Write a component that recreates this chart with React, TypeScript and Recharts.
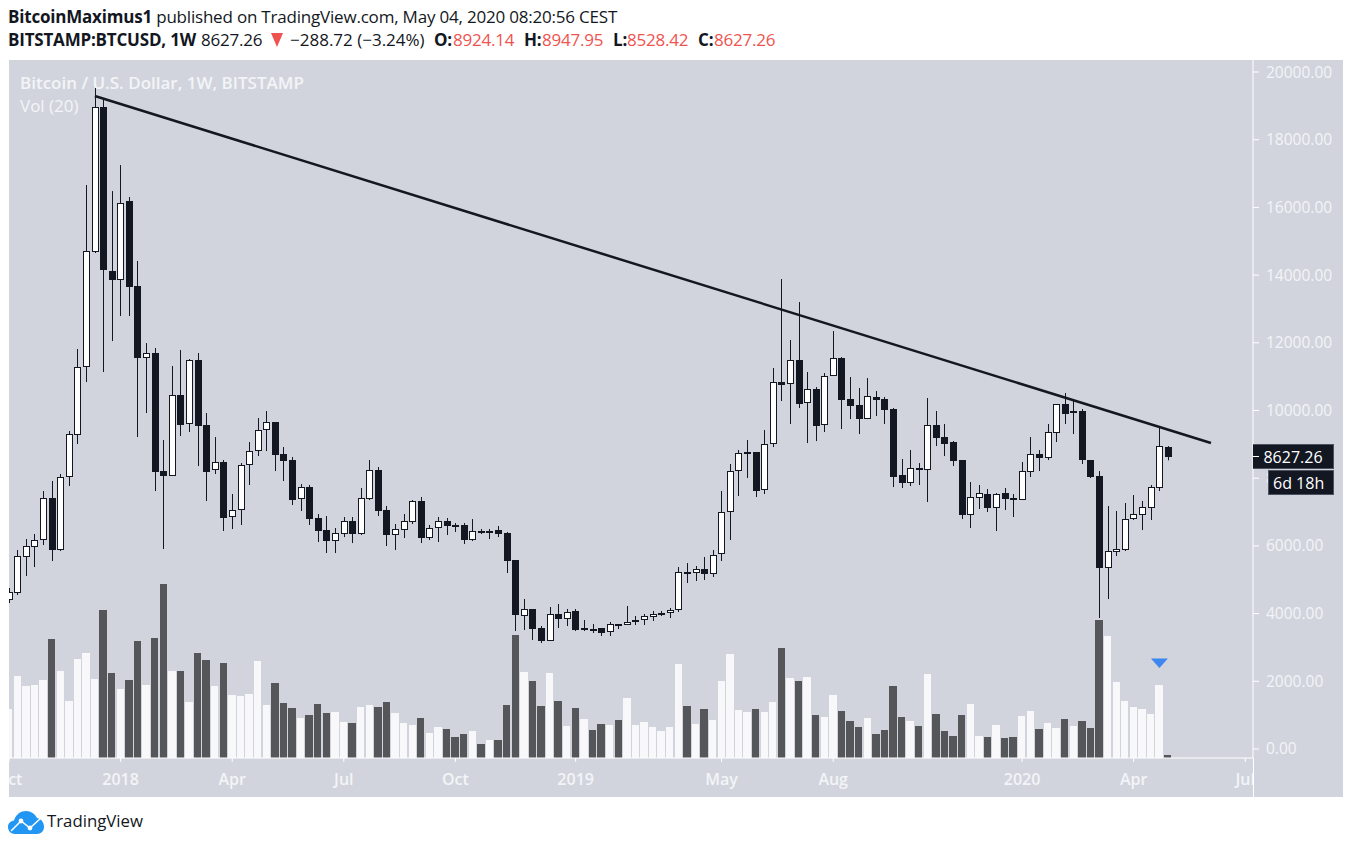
import { ComposedChart, Bar, XAxis, YAxis, ReferenceLine, ReferenceDot } from 'recharts';

const opens = [4401,4608,5672,5967,6174,7415,5878,8035,9276,11284,
  14681,18965,14120,13854,16188,13677,11550,11698,8212,8064,
  10457,9601,11491,9571,8242,8478,6853,7060,8389,8803,
  9423,9660,8714,8537,7385,7739,6824,6469,6144,6351,
  6735,6351,7385,8242,7060,6322,6469,6706,7326,6233,
  6528,6735,6617,6617,6174,6440,6440,6469,6381,5583,
  3929,4136,3574,3190,3988,3840,4077,3574,3545,3574,
  3456,3693,3663,3811,3811,3929,4017,4017,4106,5229,
  5199,5317,5170,5760,7001,8212,8773,8773,7651,9010,
  10841,10782,11491,10221,10634,9571,11018,11550,10339,10162,
  9748,10398,10339,10044,8094,7858,8301,8242,9571,9216,
  9069,8537,6912,7415,7533,7119,7562,7415,7355,8183,
  8714,8596,9335,10191,9985,9985,8537,8064,5347,5849,
  5878,6794,6912,7119,7710,8924.14];

const closes = [4638,5701,5997,6174,7415,5878,8035,9305,11284,14711,
  18965,14150,13854,16129,13647,11550,11698,8183,8064,10457,
  9571,11491,9541,8183,8478,6824,7060,8389,8803,9423,
  9660,8685,8508,7355,7739,6794,6440,6144,6381,6735,
  6351,7415,8242,7031,6322,6499,6735,7326,6233,6528,
  6735,6587,6587,6174,6440,6410,6410,6351,5554,3958,
  4136,3545,3190,3988,3840,4047,3515,3515,3515,3427,
  3693,3633,3752,3752,3929,3988,3958,4106,5229,5170,
  5317,5170,5731,7001,8212,8744,8714,7621,9010,10841,
  10753,11491,10191,10634,9541,11018,11550,10309,10132,9748,
  10428,10309,10014,8035,7858,8301,8242,9571,9187,9010,
  8508,6912,7444,7562,7119,7533,7385,7355,8212,8714,
  8596,9364,10191,9896,9925,8537,8035,5347,5849,5908,
  6794,6942,7149,7739,8951,8627.26];

const highs = [4756,5878,6203,6351,7621,7917,8124,9394,11816,16661,
  19526,19231,16483,17251,16306,14416,11993,11846,9128,11314,
  11786,11521,11698,9925,9216,8537,7533,8448,9069,9778,
  9985,9660,8921,8626,7828,7799,6942,6883,6528,6853,
  6853,7710,8537,8330,7178,6647,6942,7355,7444,6617,
  6853,6824,6676,6676,6794,6499,6499,6587,6410,5583,
  4431,4136,3633,4195,4283,4136,4136,3811,3693,3574,
  3752,3693,4224,3929,3988,4077,4077,4165,5376,5494,
  5406,5672,5878,7621,8419,8832,9128,8773,9423,11255,
  13884,12082,13204,11137,10693,11107,12348,11580,10989,10664,
  10959,10575,10398,10073,8567,8832,8448,10369,9985,9601,
  9098,8537,7887,7799,7680,7562,7710,7533,8478,9216,
  8832,9601,10191,10516,10280,10044,8537,8212,7178,7031,
  7267,7503,7326,7799,9482,8947.95];

const lows = [4313,4549,5110,5376,6026,5554,5849,7769,9010,10841,
  14652,11137,12052,12791,12791,9216,9925,7621,5908,8064,
  9246,9364,8360,7326,8124,6440,6499,6617,7799,8655,
  8803,8212,7917,7208,7031,6617,6115,5790,5790,6262,
  6085,6322,7355,6883,5997,5878,6233,6647,6085,6174,
  6115,6322,6410,6056,6144,6351,6203,6262,5199,3486,
  3515,3220,3131,3190,3574,3633,3486,3486,3427,3338,
  3338,3545,3663,3663,3663,3781,3929,3870,4047,4904,
  4963,4992,5081,5554,6174,7474,8005,7444,7533,8921,
  10280,9601,10073,9039,9098,9364,11018,9453,9748,9305,
  9748,9837,9601,7739,7710,7769,7799,7296,8951,8655,
  8360,6794,6528,7090,7001,6440,7060,6853,7355,8035,
  8212,8537,9069,9601,9305,8419,8005,3870,4431,5701,
  5849,6765,6469,6765,7621,8528.42];

const volumes = [49,82,72,73,78,119,87,57,99,105,
  79,148,85,69,78,117,73,120,174,87,
  87,56,105,98,72,95,63,62,64,97,
  53,75,55,50,40,43,54,45,46,36,
  35,51,53,51,56,45,35,33,40,25,
  31,29,21,24,27,14,18,18,53,123,
  86,77,52,85,57,32,50,39,28,34,
  33,38,60,33,36,31,27,31,94,52,
  34,49,38,77,104,48,46,49,46,56,
  110,80,77,81,43,41,63,47,37,31,
  40,24,28,72,41,37,32,84,44,27,
  22,43,54,22,21,33,20,21,42,47,
  29,35,30,39,32,37,30,138,122,76,
  57,51,49,44,73,3];

const downVolumes = [5,11,12,14,15,17,18,20,22,23,25,31,32,33,35,36,37,40,43,44,48,51,52,53,55,57,58,59,61,62,64,66,68,69,71,79,81,87,90,92,94,97,98,99,101,102,103,104,106,108,109,110,111,114,116,117,120,123,125,126,127,135];

const priceTicks = [0,2000,4000,6000,8000,10000,12000,14000,16000,18000,20000];
const timeTicks = [0,13,26,39,52,66,83,96,118,131,144];
const timeLabels = ['Oct','2018','Apr','Jul','Oct','2019','May','Aug','2020','Apr','Jul'];
const trendLine = [{ x: 10, y: 19290 }, { x: 140, y: 9040 }];

const rows = opens.map((open, i) => ({
  i,
  open,
  close: closes[i],
  high: highs[i],
  low: lows[i],
  volume: volumes[i],
  volDown: downVolumes.includes(i),
}));

const dark = '#131722';
const light = '#f3f4f8';
const font = '"Open Sans", sans-serif';

function Candle(props: any) {
  const { x, y, width, height, payload } = props;
  const { open, close, high, low } = payload;
  const k = height / (high - low);
  const cx = Math.floor(x + width / 2);
  const top = Math.round(y + (high - Math.max(open, close)) * k);
  const bottom = Math.round(y + (high - Math.min(open, close)) * k);
  const down = close < open;
  return (
    <g>
      <rect x={cx} y={y} width={1} height={height} fill={dark} />
      {down ? (
        <rect x={cx - 3} y={top} width={7} height={Math.max(bottom - top, 2)} fill={dark} />
      ) : (
        <rect x={cx - 2.5} y={top + 0.5} width={6} height={Math.max(bottom - top - 1, 2)} fill="#fff" stroke={dark} strokeWidth={1} />
      )}
    </g>
  );
}

function VolumeBar(props: any) {
  const { x, y, width, height, payload } = props;
  const mid = x + width / 2;
  const left = Math.round(mid - 3.7);
  const right = Math.round(mid + 3.7);
  return <rect x={left} y={y} width={right - left} height={height} fill={payload.volDown ? '#555659' : '#f8f8fb'} />;
}

function TimeTick(props: any) {
  const { x, payload } = props;
  const idx = timeTicks.indexOf(payload.value);
  return (
    <text x={x} y={785} textAnchor="middle" fontFamily={font} fontSize={16} fontWeight={600} fill={light} clipPath="url(#timeClip)">
      {timeLabels[idx]}
    </text>
  );
}

function Arrow(props: any) {
  const { cx, cy } = props;
  return <path d={`M${cx - 8.5} ${cy - 4.5} L${cx + 8.5} ${cy - 4.5} L${cx} ${cy + 5} Z`} fill="#3f86ee" />;
}

const abs = (left: number, top: number, extra: any = {}): any => ({
  position: 'absolute',
  left,
  top,
  whiteSpace: 'nowrap',
  fontFamily: font,
  lineHeight: 1,
  ...extra,
});

const head = { fontSize: 17, color: dark, letterSpacing: -0.2 };
const headRed = { fontSize: 17, color: '#ef5350', letterSpacing: -0.2 };
const tag = { background: dark, color: '#fff', fontSize: 16, lineHeight: '24px', boxSizing: 'border-box', border: '1px solid #4c525e' };

export default function App() {
  return (
    <div style={{ position: 'absolute', left: 0, top: 0, width: 1352, height: 847, background: '#fff', overflow: 'hidden' }}>
      <div style={{ position: 'absolute', left: 9, top: 60, width: 1334, height: 737, background: '#d1d4dc' }} />
      <div style={abs(20, 74, { fontSize: 17, fontWeight: 600, color: light })}>Bitcoin / U.S. Dollar, 1W, BITSTAMP</div>
      <div style={abs(20, 97, { fontSize: 17, color: light })}>Vol (20)</div>

      <svg width={0} height={0} style={{ position: 'absolute' }}>
        <defs>
          <clipPath id="timeClip">
            <rect x={9} y={758} width={1244} height={39} />
          </clipPath>
        </defs>
      </svg>

      <div style={{ position: 'absolute', left: 0, top: 0 }}>
        <ComposedChart width={1352} height={847} data={rows} margin={{ top: 60, right: 9, bottom: 50, left: 9 }}>
          <XAxis
            xAxisId="candle"
            dataKey="i"
            type="number"
            domain={[0, 144.9]}
            ticks={timeTicks}
            interval={0}
            height={39}
            stroke="#fff"
            tickLine={{ stroke: '#fff' }}
            tickSize={4}
            tick={<TimeTick />}
          />
          <XAxis xAxisId="vol" dataKey="i" type="number" domain={[0, 144.9]} hide />
          <YAxis
            yAxisId="price"
            orientation="right"
            domain={[-266, 20355]}
            ticks={priceTicks}
            interval={0}
            width={90}
            stroke="#fff"
            tickLine={{ stroke: '#fff' }}
            tickSize={6}
            tickMargin={7}
            tick={{ fill: light, fontFamily: font, fontSize: 15.5 }}
            tickFormatter={(v: number) => v.toFixed(2)}
          />
          <YAxis yAxisId="vol" domain={[0, 698]} hide />
          <Bar xAxisId="vol" yAxisId="vol" dataKey="volume" barSize={8} shape={VolumeBar} isAnimationActive={false} />
          <Bar
            xAxisId="candle"
            yAxisId="price"
            dataKey={(d: any) => [d.low, d.high]}
            barSize={7}
            shape={Candle}
            isAnimationActive={false}
          />
          <ReferenceLine xAxisId="candle" yAxisId="price" segment={trendLine} stroke={dark} strokeWidth={2.5} />
          <ReferenceDot xAxisId="candle" yAxisId="price" x={134} y={2540} shape={Arrow} />
        </ComposedChart>
      </div>

      {/* things that sit outside the plot */}
      <div style={{ position: 'absolute', left: 0, top: 60, width: 9, height: 737, background: '#fff' }} />
      <div style={{ position: 'absolute', left: 1253, top: 758, width: 1, height: 39, background: '#fff' }} />

      <div style={abs(1253, 444, { ...tag, width: 81, height: 25, textAlign: 'center', borderLeft: 'none' })}>8627.26</div>
      <div style={{ position: 'absolute', left: 1253, top: 456, width: 6, height: 1, background: '#fff' }} />
      <div style={abs(1268, 470, { ...tag, width: 66, height: 25, paddingLeft: 4 })}>6d 18h</div>

      <div style={abs(8, 8, head)}>
        <b>BitcoinMaximus1</b> published on TradingView.com, May 04, 2020 08:20:56 CEST
      </div>
      <div style={abs(8, 31, { ...head, fontWeight: 700 })}>BITSTAMP:BTCUSD, 1W</div>
      <div style={abs(201, 31, head)}>8627.26</div>
      <div style={{ position: 'absolute', left: 271, top: 33, width: 0, height: 0, borderLeft: '6px solid transparent', borderRight: '6px solid transparent', borderTop: '14px solid #ef5350' }} />
      <div style={abs(290, 31, { ...head, letterSpacing: 0 })}>−288.72 (−3.24%)</div>
      <div style={abs(434, 31, { ...head, fontWeight: 700 })}>O:</div>
      <div style={abs(453, 31, headRed)}>8924.14</div>
      <div style={abs(524, 31, { ...head, fontWeight: 700 })}>H:</div>
      <div style={abs(542, 31, headRed)}>8947.95</div>
      <div style={abs(613, 31, { ...head, fontWeight: 700 })}>L:</div>
      <div style={abs(627, 31, headRed)}>8528.42</div>
      <div style={abs(698, 31, { ...head, fontWeight: 700 })}>C:</div>
      <div style={abs(714, 31, headRed)}>8627.26</div>

      <svg width={38} height={24} style={{ position: 'absolute', left: 8, top: 811 }} viewBox="0 0 38 24">
        <path d="M7 23 C2 23 0 19 0 16 C0 12 3 10 6 9.5 C8 3 13 0 18 0 C23 0 27 3 29 7 C34 8 36 12 36 16 C36 20 33 23 29 23 Z" fill="#2196f3" />
        <path d="M3 20 L13 10 L22 17 L33 7" fill="none" stroke="#fff" strokeWidth={1.5} />
        <circle cx={13} cy={10} r={2.4} fill="#fff" />
        <circle cx={22} cy={17} r={2.4} fill="#fff" />
      </svg>
      <div style={abs(47, 813, { fontSize: 16.8, color: dark })}>TradingView</div>
    </div>
  );
}
